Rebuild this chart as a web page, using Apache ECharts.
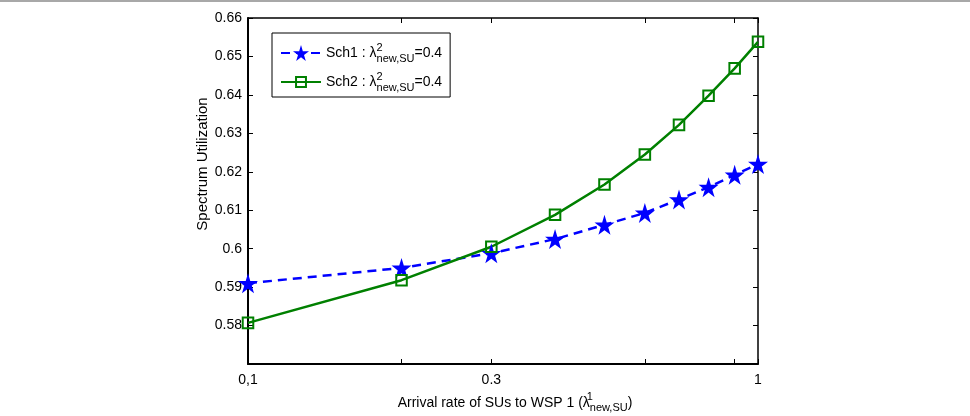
<!DOCTYPE html>
<html>
<head>
<meta charset="utf-8">
<script src="https://cdn.jsdelivr.net/npm/echarts@6/dist/echarts.min.js"></script>
<style>
html, body { margin: 0; padding: 0; background: #fff; }
#main { width: 970px; height: 416px; }
#edge { position: absolute; left: 0; top: 0; width: 970px; height: 2px; background: #a8a8a8; }
</style>
</head>
<body>
<div id="main"></div>
<div id="edge"></div>
<script>
// arrival rate of SUs to WSP 1
var rates = [0.1, 0.2, 0.3, 0.4, 0.5, 0.6, 0.7, 0.8, 0.9, 1];
var sch1 = [0.591, 0.595, 0.5988, 0.6025, 0.6062, 0.6093, 0.6128, 0.616, 0.6192, 0.622];
var sch2 = [0.5807, 0.5918, 0.6005, 0.6088, 0.6167, 0.6245, 0.6322, 0.6398, 0.6469, 0.6538];
var xTicks = [0.1, 0.2, 0.3, 0.6, 0.9, 1];
var xLabels = [0.1, 0.3, 1];
var xLabelText = {0.1: '0,1', 0.3: '0.3', 1: '1'};

var font = 'Liberation Sans';
var star = 'path://M50,0 L61,35 L98,35 L68,57 L79,91 L50,70 L21,91 L32,57 L2,35 L39,35 Z';
// square with empty margin, so the legend icon stays small
var square = 'path://M0,0 M100,100 M19,19 L81,19 L81,81 L19,81 Z';

function pairs(xs, ys) {
    return xs.map(function (x, i) { return [x, ys[i]]; });
}

var richText = {
    t: { fontFamily: font, fontSize: 14, color: '#000', lineHeight: 24 },
    sup: { fontFamily: font, fontSize: 11, color: '#000', verticalAlign: 'top', width: 0, padding: [1, 0, 0, 0] },
    sub: { fontFamily: font, fontSize: 11, color: '#000', verticalAlign: 'bottom', padding: [0, 0, 1, 0] }
};

var tickStyle = { inside: true, length: 5, lineStyle: { color: '#000', width: 1 } };

chart = echarts.init(document.getElementById('main'));
chart.setOption({
    animation: false,
    grid: { left: 248, right: 212, top: 18, bottom: 52, containLabel: false, outerBoundsMode: 'none' },
    legend: {
        left: 272,
        top: 33,
        orient: 'vertical',
        itemWidth: 40,
        itemHeight: 20,
        itemGap: 7,
        padding: [9, 8, 4, 8],
        borderColor: '#000',
        borderWidth: 1,
        backgroundColor: '#fff',
        formatter: function (name) {
            return '{t|' + name + ' : λ}{sup|2}{sub|new,SU}{t|=0.4}';
        },
        textStyle: { rich: richText }
    },
    xAxis: [
        {
            type: 'log',
            logBase: 10,
            min: 0.1,
            max: 1,
            name: '{t|Arrival rate of SUs to WSP 1 (λ}{sup|1}{sub|new,SU}{t|)}',
            nameLocation: 'middle',
            nameGap: 24,
            nameTextStyle: { rich: richText, padding: [0, 0, 0, 24] },
            axisLine: { lineStyle: { color: '#000', width: 2 } },
            axisTick: Object.assign({ customValues: xTicks }, tickStyle),
            axisLabel: {
                customValues: xLabels,
                color: '#000',
                fontFamily: font,
                fontSize: 14,
                margin: 9,
                formatter: function (v) { return xLabelText[v] || ''; }
            },
            splitLine: { show: false }
        },
        {
            type: 'log',
            logBase: 10,
            min: 0.1,
            max: 1,
            position: 'top',
            axisLine: { lineStyle: { color: '#000', width: 1.5 } },
            axisTick: Object.assign({ customValues: xTicks }, tickStyle),
            axisLabel: { show: false },
            splitLine: { show: false }
        }
    ],
    yAxis: [
        {
            type: 'value',
            min: 0.57,
            max: 0.66,
            interval: 0.01,
            name: 'Spectrum Utilization',
            nameLocation: 'middle',
            nameGap: 38,
            nameMoveOverlap: false,
            nameTextStyle: { color: '#000', fontFamily: font, fontSize: 15, padding: [0, 0, 0, 54] },
            axisLine: { show: true, lineStyle: { color: '#000', width: 2 } },
            axisTick: tickStyle,
            axisLabel: {
                showMinLabel: false,
                color: '#000',
                fontFamily: font,
                fontSize: 14,
                margin: 6,
                formatter: function (v) { return String(parseFloat(v.toFixed(2))); }
            },
            splitLine: { show: false }
        },
        {
            type: 'value',
            min: 0.57,
            max: 0.66,
            interval: 0.01,
            position: 'right',
            axisLine: { show: true, lineStyle: { color: '#000', width: 1.5 } },
            axisTick: tickStyle,
            axisLabel: { show: false },
            splitLine: { show: false }
        }
    ],
    series: [
        {
            name: 'Sch1',
            type: 'line',
            data: pairs(rates, sch1),
            symbol: star,
            symbolSize: 20,
            itemStyle: { color: '#0000ff' },
            lineStyle: { color: '#0000ff', width: 2.5, type: [9, 6] }
        },
        {
            name: 'Sch2',
            type: 'line',
            data: pairs(rates, sch2),
            symbol: square,
            symbolSize: 17,
            itemStyle: { color: 'rgba(0,0,0,0)', borderColor: '#008000', borderWidth: 2 },
            lineStyle: { color: '#008000', width: 2.5 }
        }
    ]
});
</script>
</body>
</html>
